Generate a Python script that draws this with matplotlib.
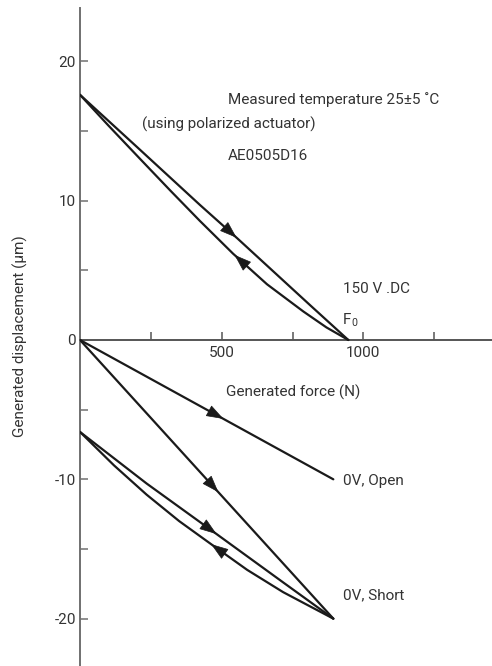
import numpy as np
import matplotlib
matplotlib.use("Agg")
import matplotlib.pyplot as plt
from matplotlib.patches import FancyArrowPatch

plt.rcParams['font.family'] = ['Roboto', 'DejaVu Sans']

# Generated force (N) / displacement (um) curves
dc_load_force = [0, 212, 423, 555, 812, 947]
dc_load_disp = [17.6, 13.65, 9.7, 7.3, 2.5, 0.0]
dc_unload_force = [947, 870, 788, 660, 540, 423, 320, 212, 100, 0]
dc_unload_disp = [0.0, 0.9, 2.05, 4.0, 6.2, 8.55, 10.7, 13.0, 15.4, 17.6]

open_force = [0, 894]
open_disp = [0.0, -10.0]

short_first_force = [0, 894]
short_first_disp = [0.0, -20.0]
short_load_force = [0, 235, 480, 717, 894]
short_load_disp = [-6.6, -10.3, -13.9, -17.4, -20.0]
short_unload_force = [894, 810, 717, 590, 459, 350, 235, 120, 0]
short_unload_disp = [-20.0, -19.1, -18.1, -16.5, -14.6, -13.0, -11.1, -9.0, -6.6]

x_ticks = [250, 500, 750, 1000, 1250]
x_tick_labels = ["", "500", "", "1000", ""]
y_major = [-20, -10, 0, 10, 20]
y_minor = [-15, -5, 5, 15]

TEXT = "#333333"
LINE = "#1a1a1a"

fig = plt.figure(figsize=(4.92, 6.66), dpi=100)
ax = fig.add_axes([80 / 492, 0, 412 / 492, 658 / 666])
ax.set_xlim(0, 1454)
ax.set_ylim(-23.4, 23.83)

for s in ("top", "right"):
    ax.spines[s].set_visible(False)
ax.spines["bottom"].set_position(("data", 0))
ax.spines["left"].set_color("#707070")
ax.spines["bottom"].set_color("#555555")
ax.spines["left"].set_linewidth(1.4)
ax.spines["bottom"].set_linewidth(1.4)

fs = 11
ax.set_xticks(x_ticks)
ax.set_xticklabels(x_tick_labels)
ax.set_yticks(y_major)
ax.set_yticklabels([str(v) for v in y_major])
ax.set_yticks(y_minor, minor=True)
ax.tick_params(axis="x", direction="in", length=6, width=1.1, color="#555555",
               labelsize=fs, labelcolor=TEXT, pad=4)
ax.tick_params(axis="y", which="both", direction="in", length=6, width=1.1,
               color="#707070", labelsize=fs, labelcolor=TEXT, pad=3)


def curve(fx, fy):
    ax.plot(fx, fy, color=LINE, lw=1.6, solid_capstyle="round",
            solid_joinstyle="round", zorder=3)


def arrow_on(fx, fy, at, forward=True):
    fx = np.asarray(fx, float)
    fy = np.asarray(fy, float)
    order = np.argsort(fx)
    xs, ys = fx[order], fy[order]
    step = 25 if forward else -25
    tip = (at, np.interp(at, xs, ys))
    tail = (at - step, np.interp(at - step, xs, ys))
    ax.add_patch(FancyArrowPatch(tail, tip, arrowstyle="-|>,head_length=0.8,head_width=0.28",
                                 mutation_scale=14, color=LINE, lw=0.5, zorder=4))


curve(dc_load_force, dc_load_disp)
curve(dc_unload_force, dc_unload_disp)
curve(open_force, open_disp)
curve(short_first_force, short_first_disp)
curve(short_load_force, short_load_disp)
curve(short_unload_force, short_unload_disp)

arrow_on(dc_load_force, dc_load_disp, 560, True)
arrow_on(dc_unload_force, dc_unload_disp, 538, False)
arrow_on(open_force, open_disp, 515, True)
arrow_on(short_first_force, short_first_disp, 495, True)
arrow_on(short_load_force, short_load_disp, 490, True)
arrow_on(short_unload_force, short_unload_disp, 455, False)

ax.text(522, 17.23, "Measured temperature 25\u00b15 \u02daC", fontsize=fs, color=TEXT, va="center")
ax.text(219, 15.5, "(using polarized actuator)", fontsize=fs, color=TEXT, va="center")
ax.text(522, 13.2, "AE0505D16", fontsize=fs, color=TEXT, va="center")
ax.text(928, 3.66, "150 V .DC", fontsize=fs, color=TEXT, va="center")
ax.text(928, 1.44, "F", fontsize=fs, color=TEXT, va="center")
ax.text(956, 1.2, "0", fontsize=fs * 0.7, color=TEXT, va="center")
ax.text(928, -10.12, "0V, Open", fontsize=fs, color=TEXT, va="center")
ax.text(928, -18.3, "0V, Short", fontsize=fs, color=TEXT, va="center")
ax.text(515, -3.73, "Generated force (N)", fontsize=fs, color=TEXT, va="center")

fig.text(20 / 492, 1 - 336 / 666, "Generated displacement (\u03bcm)", fontsize=fs, color=TEXT,
         rotation=90, ha="center", va="center")

fig.savefig("out.png", dpi=100)
